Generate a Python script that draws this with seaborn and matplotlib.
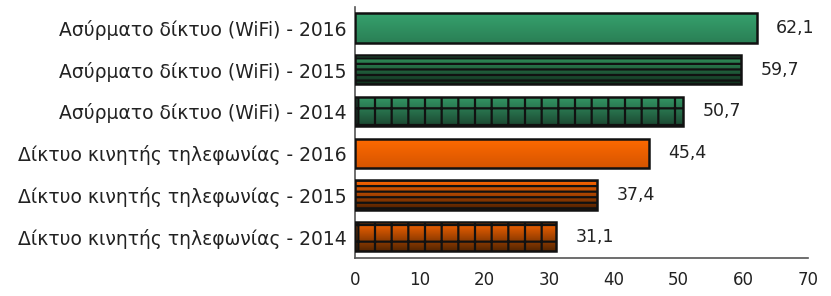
import numpy as np
import pandas as pd
import matplotlib
matplotlib.use("Agg")
import matplotlib.pyplot as plt
import matplotlib.colors as mcolors
from matplotlib.ticker import FixedLocator
import seaborn as sns

# ─── DATA ─────────────────────────────────────────────────────────────────────
labels = [
    "Ασύρματο δίκτυο (WiFi) - 2016",
    "Ασύρματο δίκτυο (WiFi) - 2015",
    "Ασύρματο δίκτυο (WiFi) - 2014",
    "Δίκτυο κινητής τηλεφωνίας - 2016",
    "Δίκτυο κινητής τηλεφωνίας - 2015",
    "Δίκτυο κινητής τηλεφωνίας - 2014",
]
values = [62.1, 59.7, 50.7, 45.4, 37.4, 31.1]
x_ticks = [0, 10, 20, 30, 40, 50, 60, 70]

# gradient (top, bottom) and hatch per bar
styles = [
    ("#36a16d", "#2a7f55", None),
    ("#33995f", "#12301f", "---"),
    ("#349966", "#1b4731", "+"),
    ("#ff6a00", "#d65500", None),
    ("#ff6600", "#4a1e00", "---"),
    ("#ff6600", "#552500", "+"),
]

sns.set_style("white")
plt.rcParams["font.family"] = ["DejaVu Sans"]
plt.rcParams["hatch.linewidth"] = 1.6

df = pd.DataFrame({"label": labels, "value": values})

fig, ax = plt.subplots(figsize=(8.31, 2.96), dpi=100)
sns.barplot(data=df, x="value", y="label", orient="h", width=0.7,
            color="#339966", ax=ax)

for bar, (top, bottom, hatch) in zip(ax.patches, styles):
    x0, y0 = bar.get_x(), bar.get_y()
    w, h = bar.get_width(), bar.get_height()
    cmap = mcolors.LinearSegmentedColormap.from_list("g", [top, bottom])
    grad = np.linspace(0, 1, 64).reshape(-1, 1)
    # y axis inverted: y0 is the top of the bar visually
    im = ax.imshow(grad, cmap=cmap, aspect="auto", interpolation="bilinear",
                   extent=(x0, x0 + w, y0 + h, y0), zorder=2)
    im.set_clip_path(bar)
    bar.set_facecolor("none")
    bar.set_edgecolor("#111111")
    bar.set_linewidth(1.8)
    bar.set_zorder(3)
    if hatch:
        bar.set_hatch(hatch)

for bar, v in zip(ax.patches, values):
    ax.annotate(f"{v:.1f}".replace(".", ","),
                (bar.get_x() + bar.get_width(), bar.get_y() + bar.get_height() / 2),
                xytext=(14, 0), textcoords="offset points",
                ha="left", va="center", fontsize=12.5, color="#222222")

ax.set_xlim(0, 70)
ax.set_ylim(len(labels) - 0.5, -0.5)
ax.set_xticks(x_ticks)
ax.set_xlabel("")
ax.set_ylabel("")
ax.tick_params(axis="x", labelsize=12, length=6, width=1, color="#555555",
               direction="out", pad=4, labelcolor="#222222")
ax.tick_params(axis="y", which="major", length=0, labelsize=13.5, pad=6,
               labelcolor="#222222")
ax.yaxis.set_minor_locator(FixedLocator(np.arange(-0.5, len(labels), 1.0)))
ax.tick_params(axis="y", which="minor", length=6, width=1, color="#555555",
               direction="out")

for s in ["top", "right"]:
    ax.spines[s].set_visible(False)
for s in ["left", "bottom"]:
    ax.spines[s].set_color("#555555")
    ax.spines[s].set_linewidth(1.2)

plt.subplots_adjust(left=0.427, right=0.972, top=0.976, bottom=0.13)
plt.savefig("out.png", dpi=100)
